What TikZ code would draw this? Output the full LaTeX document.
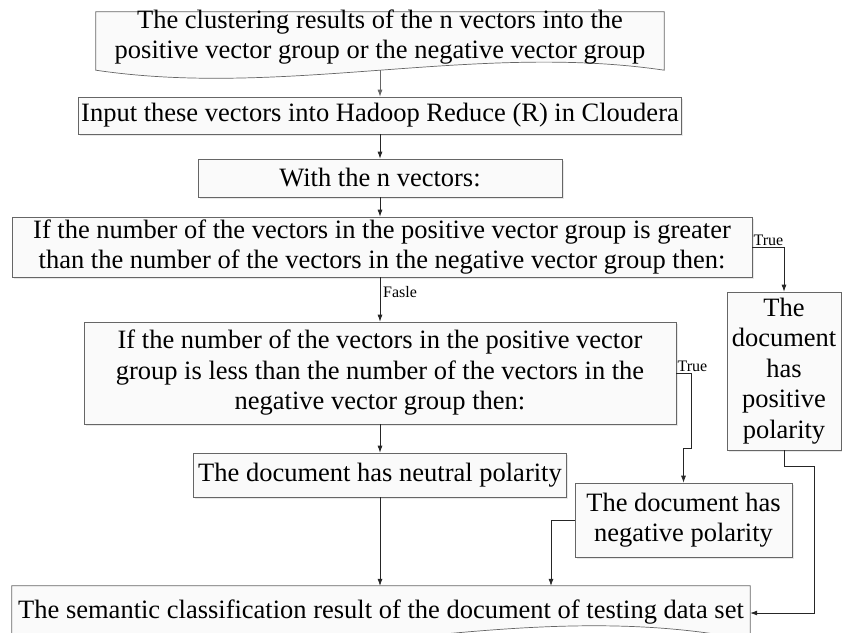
\documentclass[tikz,border=0pt]{standalone}
\usepackage{fontspec}
\setmainfont{Liberation Serif}
\usetikzlibrary{arrows.meta, calc, shadows}

\tikzset{
  flowbox/.style={draw=black!60, fill=black!2, line width=0.7pt, align=center, inner sep=1pt,
    font=\fontsize{26.5}{30.5}\selectfont,
    drop shadow={shadow xshift=1.8pt, shadow yshift=-1.8pt, fill=black!18}},
  doctext/.style={align=center, inner sep=1pt, font=\fontsize{26.5}{30.5}\selectfont},
  docshape/.style={draw=black!60, fill=black!2, line width=0.7pt},
  flowline/.style={draw=black!85, line width=0.7pt, -{Latex[length=7pt,width=5pt]}},
  branchlabel/.style={font=\fontsize{16}{18}\selectfont, inner sep=1pt},
}

\begin{document}
\begin{tikzpicture}[x=1pt, y=-1pt]
  \useasboundingbox (0,0) rectangle (842,632);

  % input: clustering results (document shape)
  \node[doctext, minimum width=568pt, minimum height=58pt] (clusters) at (380,41) {};
  \draw[docshape] (clusters.north west) -- (clusters.north east) -- (clusters.south east)
    .. controls ($(clusters.south)+(95,-28)$) and ($(clusters.south)+(-95,28)$) .. (clusters.south west) -- cycle;
  \node[doctext] (clusterstext) at (380,37) {The clustering results of the n vectors into the\\positive vector group or the negative vector group};

  \node[flowbox, minimum width=603pt, minimum height=37pt] (hadoop) at (380,115.5) {Input these vectors into Hadoop Reduce (R) in Cloudera};
  \node[flowbox, minimum width=364pt, minimum height=38pt] (withn) at (380,178) {With the n vectors:};
  \node[flowbox, minimum width=740pt, minimum height=60pt] (greater) at (382,247) {If the number of the vectors in the positive vector group is greater\\than the number of the vectors in the negative vector group then:};
  \node[flowbox, minimum width=114pt, minimum height=158pt] (positive) at (784,371) {The\\document\\has\\positive\\polarity};
  \node[flowbox, minimum width=592pt, minimum height=102pt] (less) at (380,373) {If the number of the vectors in the positive vector\\group is less than the number of the vectors in the\\negative vector group then:};
  \node[flowbox, minimum width=373pt, minimum height=44pt] (neutral) at (380,475) {The document has neutral polarity};
  \node[flowbox, minimum width=217pt, minimum height=74pt] (negative) at (683.5,520) {The document has\\negative polarity};

  % output: classification result (document shape)
  \node[doctext, minimum width=738pt, minimum height=54pt] (result) at (381,613) {};
  \draw[docshape] (result.north west) -- (result.north east) -- (result.south east)
    .. controls ($(result.south)+(123,-50)$) and ($(result.south)+(-123,50)$) .. (result.south west) -- cycle;
  \node[doctext] (resulttext) at (381,612) {The semantic classification result of the document of testing data set};

  % connectors
  \draw[flowline, draw=black!60] (clusters.south) -- (hadoop.north);
  \draw[flowline] (hadoop) -- (withn);
  \draw[flowline] (withn) -- (greater.north -| withn);
  \draw[flowline] (greater.south -| withn) -- (less.north);
  \node[branchlabel, right] (falselabel) at (382,292) {Fasle};
  \draw[flowline] (greater.east) -| (positive.north);
  \node[branchlabel, above right] (truegreater) at (greater.east) {True};
  \draw[flowline] (less) -- (neutral);
  \draw[flowline] (less.east) -- ++(15,0) |- ($(negative.north)+(0,-34)$) -- (negative.north);
  \node[branchlabel, above right] (trueless) at (less.east) {True};
  \draw[flowline] (neutral.south) -- (neutral.south |- result.north);
  \draw[flowline] (negative.west) -| ($(result.north)+(170,0)$);
  \draw[flowline] (positive.south) -- ++(0,16) -| ($(result.east)+(64,0)$) -- (result.east);
\end{tikzpicture}
\end{document}
